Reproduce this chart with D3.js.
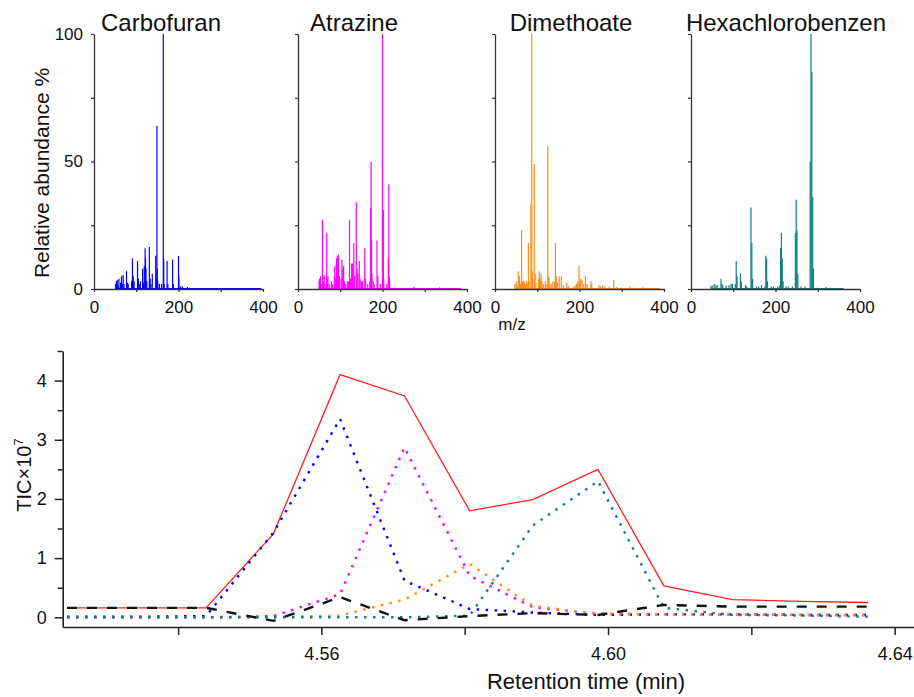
<!DOCTYPE html>
<html>
<head>
<meta charset="utf-8">
<script src="https://cdn.jsdelivr.net/npm/d3@7"></script>
<style>
  body { margin: 0; background: #fff; }
  svg { display: block; font-family: Arial, "Liberation Sans", sans-serif; }
</style>
</head>
<body>
<div id="chart"></div>
<script>
// ---- mass spectra (m/z, relative abundance %) ----
var compounds = ["Carbofuran", "Atrazine", "Dimethoate", "Hexachlorobenzen"];
var colors = ["#0000ff", "#ff00ff", "#ff8c1a", "#108080"];

var carbofuranPeaks = [[51,2],[53,3],[55,3.5],[57,1.5],[59,4],[63,2.5],[65,5],[67,2],[69,5.5],[71,2],
  [77,7],[79,2.5],[81,2],[89,3],[91,12],[93,5],[95,3],[103,11],[105,4],[107,2],[110,3],[115,8],[117,2.5],
  [119,9],[121,16],[122,12],[123,8],[125,3],[131,16.5],[133,4],[135,2],[138,6],[146,13],[147,4],[149,64],
  [150,8],[151,3],[155,2],[160,2],[164,100],[165,12],[166,2],[173,11],[175,2],[186,11.5],[188,2],[200,13],
  [201,5],[205,1],[209,1],[221,0.8],[226,0.5],[240,0.3],[268,0.4],[280,0.3],[300,0.3],[320,0.2],[340,0.3],
  [360,0.2],[380,0.2],[395,0.2]];
var atrazinePeaks = [[50,3],[51,4],[53,5],[55,2],[58,27],[60,3],[62,5.5],[64,2],[68,22],[69,4],[71,5],[74,2],
  [79,3],[82,2],[86,5],[87,9],[88,4],[91,12],[93,13],[94,5],[96,13.5],[98,5],[102,4],[104,11.5],[106,8],[108,9],
  [110,3],[113,2],[117,3],[119,3],[122,27],[124,4],[127,10],[129,10],[132,18],[134,5],[138,34],[140,8],[142,6],
  [145,11],[147,4],[150,3],[153,3],[158,16],[160,4],[165,2],[170,3],[172,32],[173,50],[174,19],[175,6],[178,3],
  [180,2],[187,19],[189,5],[195,2],[200,100],[201,12],[202,31],[203,4],[210,2],[214,12],[215,41],[216,5],[217,3],
  [230,0.5],[250,0.3],[275,0.8],[290,0.3],[310,0.3],[335,0.6],[360,0.2],[385,0.2]];
var dimethoatePeaks = [[47,2],[50,3],[52,1.5],[55,7],[58,5],[60,2],[63,23],[65,3],[66,2.5],[68,3],[70,2.5],
  [72,1.5],[74,3],[76,2.5],[79,18],[81,3],[85,33],[87,100],[88,7],[89,4],[93,49],[95,6],[97,2.5],[103,4],[105,7],
  [107,4],[109,6],[111,3],[115,2],[119,3],[121,2],[125,56],[126,5],[128,4.5],[130,2],[134,2],[137,3],[141,3],
  [143,18],[145,5],[148,2.5],[152,5],[157,5],[162,1.5],[170,2.5],[174,1],[185,1],[190,1.5],[193,2],[196,3],
  [199,9],[200,3],[203,4],[206,3.5],[210,2],[214,5],[218,2],[227,3],[229,2],[246,1.5],[250,1],[255,1.5],[260,1],
  [270,1],[281,3.5],[288,0.8],[300,0.5],[320,1],[330,0.5],[350,0.8],[372,0.3],[390,0.2]];
var hcbPeaks = [[47,1],[50,1.5],[55,2],[59,1.5],[62,1.5],[71,4],[73,2],[75,1.5],[83,1.5],[90,1.5],[95,2],[98,2],
  [105,2],[107,11],[109,5],[117,6],[119,3],[129,1.5],[132,1],[142,32],[144,18],[146,4],[155,1],[160,1],[167,1.5],
  [175,1],[177,13],[179,12],[181,3],[190,1],[195,1],[205,1],[210,1.5],[212,16],[214,22],[216,12],[218,3],[225,1],
  [230,1],[240,1],[247,22],[249,35],[251,23],[253,6],[260,1],[270,1],[282,50],[284,100],[286,85],[288,36],[290,8],
  [300,0.5],[320,0.8],[330,0.5],[340,0.3],[360,0.3]];
var spectra = [carbofuranPeaks, atrazinePeaks, dimethoatePeaks, hcbPeaks];

var mzTicks = [0, 100, 200, 300, 400];
var mzLabels = [0, 200, 400];
var abundTicks = [0, 25, 50, 75, 100];
var abundLabels = [0, 50, 100];

// ---- chromatogram (retention time, TIC x 10^7) ----
var times = [4.5245, 4.5342, 4.5439, 4.5533, 4.5626, 4.5716, 4.5807, 4.5895, 4.5986, 4.6078, 4.6174, 4.6269, 4.6363];
var ticTotal   = [0.16, 0.16, 0.16, 1.41, 4.10, 3.74, 1.80, 1.99, 2.50, 0.53, 0.30, 0.27, 0.25];
var ticCarbo   = [0.01, 0.01, 0.02, 1.43, 3.35, 0.62, 0.14, 0.08, 0.04, 0.05, 0.05, 0.04, 0.04];
var ticAtraz   = [0.0, 0.0, 0.0, 0.02, 0.39, 2.87, 0.70, 0.17, 0.06, 0.05, 0.05, 0.04, 0.04];
var ticDimeth  = [0.0, 0.0, 0.0, 0.0, 0.03, 0.30, 0.90, 0.19, 0.06, 0.05, 0.05, 0.04, 0.04];
var ticHcb     = [0.0, 0.0, 0.0, 0.0, 0.0, 0.0, 0.03, 1.55, 2.30, 0.16, 0.04, 0.03, 0.01];
var ticResid   = [0.16, 0.16, 0.16, -0.06, 0.34, -0.05, 0.02, 0.07, 0.04, 0.21, 0.18, 0.18, 0.18];

var timeTicks = [4.54, 4.56, 4.58, 4.60, 4.62, 4.64];
var timeLabels = [4.56, 4.60, 4.64];
var ticTicks = [0, 0.5, 1, 1.5, 2, 2.5, 3, 3.5, 4, 4.5];

var W = 914, H = 697;
var svg = d3.select("#chart").append("svg").attr("width", W).attr("height", H);

// ---------- top: spectra panels ----------
var panelLeft = [94, 298, 495, 691];
var titleShift = [67, 56, 76, 95];
var panelW = 169, panelTop = 34, panelBottom = 289;

var y = d3.scaleLinear().domain([0, 100]).range([panelBottom, panelTop]);

spectra.forEach(function(peaks, i) {
  var x = d3.scaleLinear().domain([0, 400]).range([panelLeft[i], panelLeft[i] + panelW]);
  var g = svg.append("g");

  g.selectAll("line.peak").data(peaks).enter().append("line")
    .attr("class", "peak")
    .attr("x1", function(d) { return x(d[0]); })
    .attr("x2", function(d) { return x(d[0]); })
    .attr("y1", y(0))
    .attr("y2", function(d) { return y(d[1]); })
    .style("stroke", colors[i])
    .style("stroke-width", 1.2);
  // baseline
  g.append("line")
    .attr("x1", x(peaks[0][0])).attr("x2", x(peaks[peaks.length - 1][0]))
    .attr("y1", y(0) - 0.5).attr("y2", y(0) - 0.5)
    .style("stroke", colors[i]).style("stroke-width", 1);

  var xAxis = d3.axisBottom(x).tickValues(mzTicks).tickSize(3).tickSizeOuter(0)
    .tickFormat(function(d) { return mzLabels.indexOf(d) >= 0 ? d : ""; });
  var gx = g.append("g").attr("transform", "translate(0," + panelBottom + ")").call(xAxis);

  var yAxis = d3.axisLeft(y).tickValues(abundTicks).tickSize(3).tickSizeOuter(0)
    .tickFormat(function(d) { return (i == 0 && abundLabels.indexOf(d) >= 0) ? d : ""; });
  var gy = g.append("g").attr("transform", "translate(" + panelLeft[i] + ",0)").call(yAxis);

  [gx, gy].forEach(function(a) {
    a.select(".domain").style("stroke", "#333").style("stroke-width", 1.3);
    a.selectAll(".tick line").style("stroke", "#333").style("stroke-width", 1.2);
    a.selectAll(".tick text").style("font-family", "Arial, 'Liberation Sans', sans-serif")
      .style("font-size", "17px").style("fill", "#111");
  });
  gx.selectAll(".tick text").attr("y", 12);
  gy.selectAll(".tick text").attr("x", -11);

  svg.append("text")
    .attr("x", panelLeft[i] + titleShift[i]).attr("y", 31)
    .attr("text-anchor", "middle")
    .style("font-size", "24px").style("fill", "#111")
    .text(compounds[i]);
});

svg.append("text")
  .attr("transform", "translate(49,173) rotate(-90)")
  .attr("text-anchor", "middle")
  .style("font-size", "21px").style("fill", "#111")
  .text("Relative abundance %");

svg.append("text")
  .attr("x", 512).attr("y", 330)
  .attr("text-anchor", "middle")
  .style("font-size", "17px").style("fill", "#111")
  .text("m/z");

// ---------- bottom: chromatogram ----------
var xt = d3.scaleLinear().domain([4.5239, 4.6427]).range([62.7, 914]);
var yt = d3.scaleLinear().domain([-0.164, 4.5]).range([627, 351]);

var tAxis = d3.axisBottom(xt).tickValues(timeTicks).tickSize(8).tickSizeOuter(0)
  .tickFormat(function(d) {
    return timeLabels.some(function(v) { return Math.abs(v - d) < 1e-9; }) ? d3.format(".2f")(d) : "";
  });
var gtx = svg.append("g").attr("transform", "translate(0,627)").call(tAxis);

var iAxis = d3.axisLeft(yt).tickValues(ticTicks).tickSizeOuter(0)
  .tickFormat(function(d) { return d % 1 === 0 ? d : ""; });
var gty = svg.append("g").attr("transform", "translate(62.7,0)").call(iAxis);
gty.selectAll(".tick line").attr("x2", function(d) { return d % 1 === 0 ? -8 : -5; });

[gtx, gty].forEach(function(a) {
  a.select(".domain").style("stroke", "#222").style("stroke-width", 1.6);
  a.selectAll(".tick line").style("stroke", "#222").style("stroke-width", 1.5);
  a.selectAll(".tick text").style("font-family", "Arial, 'Liberation Sans', sans-serif")
    .style("font-size", "18px").style("fill", "#111");
});
gtx.selectAll(".tick text").attr("y", 20);
gty.selectAll(".tick text").attr("x", -16);

var series = [
  { values: ticTotal,  color: "#ff2020", width: 1.3, dash: null },
  { values: ticCarbo,  color: "#0000ff", width: 2.4, dash: "2.5,6.5" },
  { values: ticAtraz,  color: "#ff00ff", width: 2.4, dash: "2.5,6.5" },
  { values: ticDimeth, color: "#ff8c1a", width: 2.4, dash: "2.5,6.5" },
  { values: ticHcb,    color: "#108080", width: 2.4, dash: "2.5,6.5" },
  { values: ticResid,  color: "#111111", width: 2.4, dash: "10,10" }
];

var line = d3.line()
  .x(function(d) { return xt(d[0]); })
  .y(function(d) { return yt(d[1]); });

series.forEach(function(s) {
  var pts = times.map(function(t, k) { return [t, s.values[k]]; });
  svg.append("path")
    .datum(pts)
    .attr("d", line)
    .style("fill", "none")
    .style("stroke", s.color)
    .style("stroke-width", s.width)
    .style("stroke-dasharray", s.dash);
});

svg.append("text")
  .attr("x", 586).attr("y", 689)
  .attr("text-anchor", "middle")
  .style("font-size", "22px").style("fill", "#111")
  .text("Retention time (min)");

var ylab = svg.append("text")
  .attr("transform", "translate(31,475) rotate(-90)")
  .attr("text-anchor", "middle")
  .style("font-size", "20px").style("fill", "#111");
ylab.append("tspan").text("TIC\u00d710");
ylab.append("tspan").attr("dy", -8).style("font-size", "13px").text("7");
</script>
</body>
</html>
